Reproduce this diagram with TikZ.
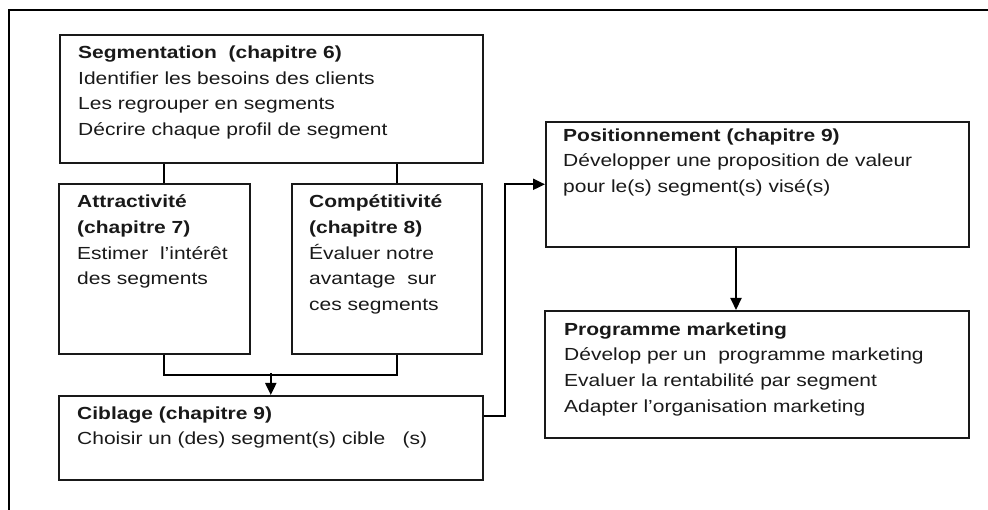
\documentclass[tikz,border=0pt]{standalone}
\usepackage{fontspec}
\setmainfont{Liberation Sans}[FakeStretch=1.2]
\usetikzlibrary{arrows.meta,calc}
\tikzset{
  box/.style={draw=black!90, line width=1.6pt, anchor=north west, inner sep=0pt, rectangle},
  txt/.style={anchor=north west, inner sep=0pt, align=left, text=black!90,
              font=\fontsize{17.5}{25.6}\selectfont},
  conn/.style={draw=black, line width=2pt},
  arr/.style={conn, -{Triangle[length=12pt,width=11pt]}},
}
\begin{document}
\begin{tikzpicture}[x=1pt,y=-1pt]
\useasboundingbox (0,0) rectangle (988,510);
% outer frame (only left and top visible)
\coordinate (fbl) at (9,510);
\coordinate (ftl) at (9,10);
\coordinate (ftr) at (988,10);
\draw[conn] (fbl) -- (ftl) -- (ftr);

% boxes
\node[box, minimum width=423pt, minimum height=128pt] (seg)  at (59,34) {};
\node[box, minimum width=191pt, minimum height=170pt] (attr) at (58,183) {};
\node[box, minimum width=190pt, minimum height=170pt] (comp) at (291,183) {};
\node[box, minimum width=424pt, minimum height=84pt]  (cib)  at (58,395) {};
\node[box, minimum width=423pt, minimum height=125pt] (pos)  at (545,121) {};
\node[box, minimum width=424pt, minimum height=127pt] (prog) at (544,310) {};

% texts
\node[txt] (segT) at ([shift={(19pt,-6.6pt)}]seg.north west)
 {\strut\textbf{Segmentation\ \ (chapitre 6)}\\Identifier les besoins des clients\\Les regrouper en segments\\Décrire chaque profil de segment};
\node[txt] (attrT) at ([shift={(19pt,-6.8pt)}]attr.north west)
 {\strut\textbf{Attractivité}\\\textbf{(chapitre 7)}\\Estimer\ \ l’intérêt\\des segments};
\node[txt] (compT) at ([shift={(18pt,-6.8pt)}]comp.north west)
 {\strut\textbf{Compétitivité}\\\textbf{(chapitre 8)}\\Évaluer notre\\avantage\ \ sur\\ces segments};
\node[txt] (cibT) at ([shift={(19pt,-6.1pt)}]cib.north west)
 {\strut\textbf{Ciblage (chapitre 9)}\\Choisir un (des) segment(s) cible\ \ \ (s)};
\node[txt] (posT) at ([shift={(18pt,-2.1pt)}]pos.north west)
 {\strut\textbf{Positionnement (chapitre 9)}\\Développer une proposition de valeur\\pour le(s) segment(s) visé(s)};
\node[txt] (progT) at ([shift={(20pt,-7.1pt)}]prog.north west)
 {\strut\textbf{Programme marketing}\\Dévelop per un\ \ programme marketing\\Evaluer la rentabilité par segment\\Adapter l’organisation marketing};

% connectors
\draw[conn] ([xshift=106pt]attr.north west) -- ([xshift=106pt]attr.north west |- seg.south);
\draw[conn] ([xshift=106pt]comp.north west) -- ([xshift=106pt]comp.north west |- seg.south);
\draw[conn] ([xshift=106pt]attr.south west) -- ++(0,20) -| ([xshift=106pt]comp.south west);
\coordinate (jn) at ($(cib.north)+(0,-22)$);
\draw[arr] (jn) -- (cib.north);
\draw[arr] ([yshift=-21pt]cib.north east) -- ++(21,0) |- (pos.west);
\draw[arr] ([xshift=191pt]pos.south west) -- ([xshift=191pt]pos.south west |- prog.north);
\end{tikzpicture}
\end{document}
